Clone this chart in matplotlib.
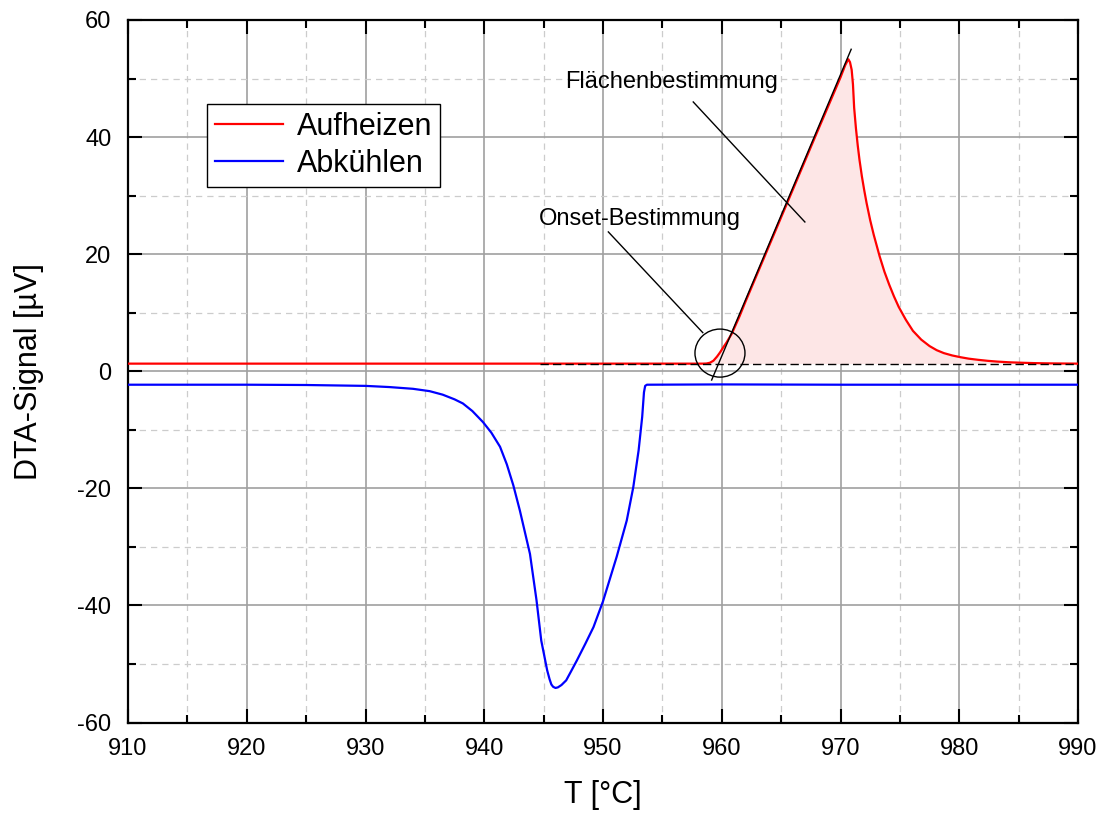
import matplotlib
matplotlib.use("Agg")
import matplotlib.pyplot as plt
from matplotlib.patches import Ellipse
from matplotlib.ticker import MultipleLocator
import numpy as np

plt.rcParams['font.family'] = ['Liberation Sans', 'DejaVu Sans']
plt.rcParams['axes.unicode_minus'] = False

# ---- data ----
heat_T = [910, 930, 950, 958.0, 958.4, 958.7, 959.0, 959.3, 959.6, 959.85, 960.1, 960.4,
          960.84, 961.5, 962.0, 964.0, 966.0, 968.0, 970.0, 970.4, 970.66, 970.8, 970.94,
          971.05, 971.15, 971.3, 971.45, 971.6, 971.8, 972.0, 972.2, 972.5, 972.8, 973.3,
          973.7, 974.1, 974.5, 974.9, 975.5, 976.1, 976.8, 977.5, 978.1, 978.7, 979.4,
          980.1, 980.8, 981.6, 982.4, 983.2, 984.2, 985.3, 986.3, 987.4, 988.7, 990]
heat_V = [1.3, 1.3, 1.3, 1.3, 1.3, 1.32, 1.45, 1.8, 2.5, 3.2, 4.0, 4.9,
          6.4, 9.4, 11.9, 21.5, 31.1, 40.7, 50.2, 52.3, 53.3, 52.8, 51.5,
          49.0, 45.0, 41.5, 38.6, 36.1, 33.3, 30.9, 28.7, 25.8, 23.3, 19.6,
          17.0, 14.8, 12.8, 11.0, 8.8, 6.9, 5.4, 4.3, 3.6, 3.1, 2.7,
          2.4, 2.15, 1.95, 1.78, 1.65, 1.53, 1.45, 1.39, 1.35, 1.32, 1.3]

cool_T = [910, 920, 925, 930, 932, 934, 935.4, 936.5, 937.5, 938.2, 939.0, 939.9, 940.6,
          941.33, 941.9, 942.45, 943.0, 943.85, 944.4, 944.8, 945.3, 945.5, 945.65, 945.8,
          946.0, 946.2, 946.5, 946.9, 947.3, 947.8, 948.5, 949.2, 950.0, 951.15, 952.0,
          952.55, 953.0, 953.3, 953.45, 953.55, 953.7, 960, 970, 980, 990]
cool_V = [-2.3, -2.3, -2.35, -2.5, -2.7, -3.0, -3.4, -4.0, -4.8, -5.5, -6.8, -8.7, -10.5,
          -12.9, -15.9, -19.5, -23.8, -31.2, -39.1, -46.0, -51.1, -52.6, -53.5, -53.9,
          -54.1, -54.0, -53.6, -52.8, -51.3, -49.4, -46.6, -43.7, -39.3, -31.7, -25.5,
          -19.8, -13.5, -7.8, -3.6, -2.5, -2.3, -2.25, -2.3, -2.3, -2.3]

baseline_T = [944.7, 990]
baseline_V = [1.3, 1.3]

tangent_T = [959.15, 970.9]
tangent_V = [-1.5, 55.0]

fill_start = 958.6

onset_center = (959.85, 3.1)

area_text = "Flächenbestimmung"
area_text_pos = (955.8, 49.4)
area_line_T = [957.6, 967.0]
area_line_V = [46.0, 25.5]

onset_text = "Onset-Bestimmung"
onset_text_pos = (953.1, 26.0)
onset_line_T = [950.45, 958.4]
onset_line_V = [23.8, 6.6]

labels = ["Aufheizen", "Abkühlen"]
xlabel = "T [°C]"
ylabel = "DTA-Signal [µV]"

# ---- figure ----
fig = plt.figure(figsize=(11.01, 8.14), dpi=100)
ax = fig.add_axes([128/1101, (814-722.5)/814, 950/1101, 702.5/814])

ax.set_xlim(910, 990)
ax.set_ylim(-60, 60)
ax.xaxis.set_major_locator(MultipleLocator(10))
ax.xaxis.set_minor_locator(MultipleLocator(5))
ax.yaxis.set_major_locator(MultipleLocator(20))
ax.yaxis.set_minor_locator(MultipleLocator(10))

ax.grid(which='major', color='#a0a0a0', linewidth=1.2, linestyle='-', zorder=0)
ax.grid(which='minor', color='#cccccc', linewidth=0.9, linestyle=(0, (5, 4)), zorder=0)
ax.set_axisbelow(True)

ax.tick_params(which='both', direction='in', top=True, right=True, width=1.5)
ax.tick_params(which='major', length=10, labelsize=17)
ax.tick_params(axis='x', which='major', pad=11.5)
ax.tick_params(axis='y', which='major', pad=12)
ax.tick_params(which='minor', length=5.5)
for s in ax.spines.values():
    s.set_linewidth(1.6)

hT = np.array(heat_T)
hV = np.array(heat_V)
mask = hT >= fill_start
ax.fill_between(hT[mask], baseline_V[0], hV[mask], color='#fde6e6', linewidth=0, zorder=1)

ax.plot(heat_T, heat_V, color='#ff0000', linewidth=1.6, label=labels[0], zorder=3)
ax.plot(cool_T, cool_V, color='#0000ff', linewidth=1.6, label=labels[1], zorder=3)

ax.plot(baseline_T, baseline_V, color='black', linewidth=1.0, linestyle=(0, (6, 3)), zorder=4)
ax.plot(tangent_T, tangent_V, color='black', linewidth=1.0, zorder=4)

ax.add_patch(Ellipse(onset_center, width=50/11.875, height=48/5.85, fill=False,
                     edgecolor='black', linewidth=1.0, zorder=5))

ax.text(*area_text_pos, area_text, fontsize=17, ha='center', va='center', zorder=6)
ax.plot(area_line_T, area_line_V, color='black', linewidth=1.0, zorder=5)
ax.text(*onset_text_pos, onset_text, fontsize=17, ha='center', va='center', zorder=6)
ax.plot(onset_line_T, onset_line_V, color='black', linewidth=1.0, zorder=5)

leg = ax.legend(loc='upper left', bbox_to_anchor=((207-128)/950, (722.5-104)/702.5),
                fontsize=22, frameon=True, fancybox=False, edgecolor='black',
                framealpha=1, handlelength=2.25, handletextpad=0.45, labelspacing=0.24,
                borderpad=0.25, borderaxespad=0)
leg.get_frame().set_linewidth(1.0)
for l in leg.get_lines():
    l.set_linewidth(1.6)

ax.set_xlabel(xlabel, fontsize=22, labelpad=14)
ax.set_ylabel(ylabel, fontsize=22, labelpad=24)

fig.savefig("out.png", dpi=100)
